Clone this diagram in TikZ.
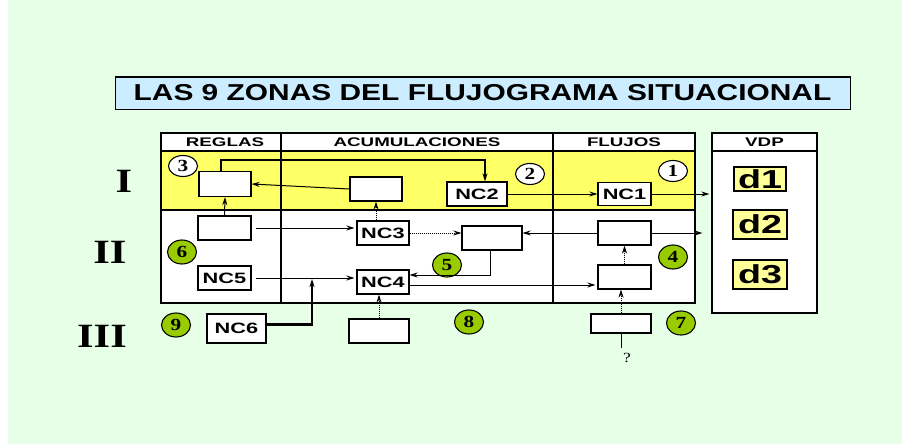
\documentclass[tikz,border=0pt]{standalone}
\usepackage{fontspec}
\setmainfont{Liberation Sans}
\newfontfamily\titlefam[FakeStretch=1.3]{Liberation Sans}
\newfontfamily\headfam[FakeStretch=1.5]{Liberation Sans}
\newfontfamily\boxfam[FakeStretch=1.45]{Liberation Sans}
\newfontfamily\romfam[FakeStretch=1.25]{Liberation Serif}
\usetikzlibrary{arrows.meta,shapes.geometric,calc}

\definecolor{fondo}{HTML}{E6FFE6}
\definecolor{celeste}{HTML}{CCECFF}
\definecolor{amarillo}{HTML}{FFFF66}
\definecolor{amarillod}{HTML}{FFFF99}
\definecolor{verde}{HTML}{99CC00}

\tikzset{
  caja/.style={draw, fill=white, line width=1.1pt, inner sep=0pt,
    font=\boxfam\bfseries\fontsize{15}{15}\selectfont},
  dato/.style={caja, fill=amarillod, font=\boxfam\bfseries\fontsize{26}{26}\selectfont},
  zona/.style={ellipse, draw, line width=1.1pt, fill=white, inner sep=0pt,
    minimum width=29pt, minimum height=21pt,
    font=\romfam\bfseries\fontsize{17}{17}\selectfont},
  zonav/.style={zona, fill=verde, minimum height=24pt},
  cabeza/.style={font=\headfam\bfseries\fontsize{12.5}{12.5}\selectfont},
  romano/.style={font=\romfam\bfseries\fontsize{34}{34}\selectfont},
  arr/.style={-{Stealth[length=8pt,width=5pt]}, line width=1pt},
  punteada/.style={arr, densely dotted},
  gruesa/.style={line width=2.6pt},
}

\begin{document}
\begin{tikzpicture}[x=1pt,y=-1pt]
  \useasboundingbox (0,0) rectangle (902,444);
  \fill[fondo] (8,0) rectangle (902,444);

  % titulo
  \node[draw, fill=celeste, line width=1pt, minimum width=735pt, minimum height=32pt,
    font=\titlefam\bfseries\fontsize{23}{23}\selectfont] (titulo) at (482.5,93) {LAS 9 ZONAS DEL FLUJOGRAMA SITUACIONAL};

  % tabla
  \fill[white] (161,133) rectangle (695,303);
  \fill[amarillo] (161,151) rectangle (695,210);
  \draw[line width=1.3pt] (161,133) rectangle (695,303);
  \draw[line width=1.1pt] (161,151) -- (695,151);
  \draw[line width=2.6pt] (161,210) -- (695,210);
  \draw[line width=1.1pt] (281,133) -- (281,303);
  \draw[line width=1.1pt] (553,133) -- (553,303);
  \node[cabeza] (hreglas) at (225,142) {REGLAS};
  \node[cabeza] (hacum) at (417,142) {ACUMULACIONES};
  \node[cabeza] (hflujos) at (624,142) {FLUJOS};

  % vdp
  \node[draw, fill=white, line width=1.3pt, minimum width=105pt, minimum height=180pt] (vdp) at (764.5,223) {};
  \draw[line width=1.1pt] (712,151) -- (817,151);
  \node[cabeza] (hvdp) at (764.5,142) {VDP};
  \node[dato, minimum width=52pt, minimum height=24pt] (d1) at (760,179) {d1};
  \node[dato, minimum width=54pt, minimum height=29pt] (d2) at (760,224.5) {d2};
  \node[dato, minimum width=54pt, minimum height=29pt] (d3) at (760,274.5) {d3};

  % numeros romanos
  \node[romano] (rI) at (124,181) {I};
  \node[romano] (rII) at (110,252) {II};
  \node[romano] (rIII) at (102,336) {III};

  % zonas
  \node[zona] (z1) at (673,171) {1};
  \node[zona] (z2) at (530,174) {2};
  \node[zona] (z3) at (183,166) {3};
  \node[zonav] (z4) at (673,257) {4};
  \node[zonav] (z5) at (447,265) {5};
  \node[zonav] (z6) at (182,252) {6};
  \node[zonav] (z7) at (681,323) {7};
  \node[zonav] (z8) at (469,322) {8};
  \node[zonav] (z9) at (176,325) {9};

  % cajas
  \node[caja, minimum width=52pt, minimum height=25pt] (R1) at (225,184) {};
  \node[caja, minimum width=52pt, minimum height=24pt] (A1) at (376,189) {};
  \node[caja, minimum width=60pt, minimum height=24pt] (NC2) at (477,194) {NC2};
  \node[caja, minimum width=53pt, minimum height=23pt] (NC1) at (624.5,194) {NC1};
  \node[caja, minimum width=53pt, minimum height=24pt] (R2) at (224.5,228) {};
  \node[caja, minimum width=52pt, minimum height=24pt] (NC3) at (383,233) {NC3};
  \node[caja, minimum width=60pt, minimum height=24pt] (A2) at (492,238) {};
  \node[caja, minimum width=53pt, minimum height=24pt] (F1) at (624.5,233) {};
  \node[caja, minimum width=53pt, minimum height=24pt] (NC5) at (224.5,278) {NC5};
  \node[caja, minimum width=52pt, minimum height=24pt] (NC4) at (383,282) {NC4};
  \node[caja, minimum width=53pt, minimum height=24pt] (F2) at (624.5,277) {};
  \node[caja, minimum width=59pt, minimum height=29pt] (NC6) at (236.5,328.5) {NC6};
  \node[caja, minimum width=60pt, minimum height=24pt] (A3) at (379,331) {};
  \node[caja, minimum width=60pt, minimum height=19pt] (F3) at (621,323.5) {};
  \node[font=\romfam\fontsize{14}{14}\selectfont] (q) at (627,358) {?};

  \coordinate (v1) at ($(vdp.west |- NC1.east)+(-2,0)$);
  \coordinate (v2) at ($(vdp.west |- F1.east)+(-9,0)$);
  \coordinate (j) at (312,279);

  % conexiones
  \draw[gruesa, arr, line width=2.6pt] ([xshift=-4pt]R1.north) -- ++(0,-11) -| ([xshift=8pt]NC2.north);
  \draw[arr] (A1.west) -- (R1.east);
  \draw[arr] (NC2.east) -- (NC1.west);
  \draw[arr] (NC1.east) -- (v1);
  \draw[arr] (R2.north) -- (R1.south);
  \draw[arr] ([xshift=4pt]R2.east) -- ([xshift=-2pt]R2.east -| NC3.west);
  \draw[punteada] (NC3.north -| A1.south) -- (A1.south);
  \draw[punteada] (NC3.east) -- (NC3.east -| A2.west);
  \draw[arr] (F1.west) -- (F1.west -| A2.east);
  \draw[arr] (F1.east) -- (v2);
  \draw[arr] ([xshift=-2pt]A2.south) |- ([yshift=7pt]NC4.east);
  \draw[arr] ([yshift=-3pt]NC4.east) -- ([xshift=-2pt, yshift=-3pt]NC4.east -| F2.west);
  \draw[punteada] (F2.north) -- (F1.south);
  \draw[arr] ([xshift=4pt]NC5.east) -- ([xshift=-2pt]NC5.east -| NC4.west);
  \draw[gruesa, arr, line width=2.2pt] ([yshift=4pt]NC6.east) -| (j);
  \draw[punteada] (A3.north) -- (A3.north |- NC4.south);
  \draw[punteada] (F3.north) -- (F3.north |- F2.south);
  \draw[line width=1pt] (F3.south) -- ++(0,14);
\end{tikzpicture}
\end{document}
